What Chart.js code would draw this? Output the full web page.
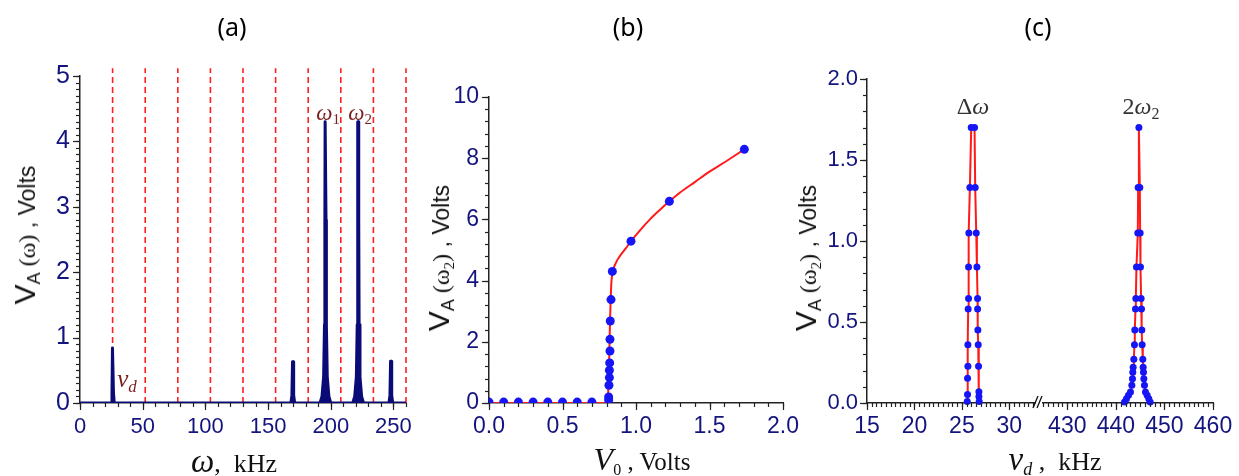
<!DOCTYPE html>
<html><head><meta charset="utf-8">
<script src="https://cdn.jsdelivr.net/npm/chart.js@4.4.1/dist/chart.umd.min.js"></script>
<style>
html,body{margin:0;padding:0;background:#fff;overflow:hidden;width:1239px;height:476px;}
#wrap{position:relative;width:1239px;height:476px;overflow:hidden;}
canvas{position:absolute;top:0;}
.lbl{position:absolute;white-space:nowrap;line-height:1;color:#111;transform:translate(-50%,-50%);}
.rot{transform:translate(-50%,-50%) rotate(-90deg);}
.ss{font-family:"Liberation Sans",Arial,sans-serif;}
.sf{font-family:"Liberation Serif","Times New Roman",serif;}
.it{font-style:italic;}
.ptitle{font-family:"Noto Sans",sans-serif;font-size:25px;color:#000;}
.ann{color:#7a1e1e;font-family:"Liberation Serif",serif;font-style:italic;font-size:23px;}
sub{vertical-align:-0.3em;line-height:0;}
</style></head><body><div id="wrap">
<canvas id="ca" width="440" height="476" style="left:0px;width:440px;height:476px"></canvas>
<canvas id="cb" width="420" height="476" style="left:420px;width:420px;height:476px"></canvas>
<canvas id="ccl" width="230" height="476" style="left:816px;width:230px;height:476px"></canvas>
<canvas id="ccr" width="250" height="476" style="left:1030px;width:250px;height:476px"></canvas>

<div class="lbl ptitle" style="left:232px;top:26px">(a)</div>
<div class="lbl ptitle" style="left:628px;top:26px">(b)</div>
<div class="lbl ptitle" style="left:1038px;top:26px">(c)</div>

<div class="lbl rot" style="left:25px;top:235px"><span class="ss" style="font-size:30px">V</span><sub class="ss" style="font-size:18px">A</sub><span class="sf" style="font-size:24px"> (ω)</span><span class="ss" style="font-size:23px"> , Volts</span></div>
<div class="lbl rot" style="left:439px;top:258px"><span class="ss" style="font-size:30px">V</span><sub class="ss" style="font-size:18px">A</sub><span class="sf" style="font-size:24px"> (ω<sub style="font-size:15px">2</sub>)</span><span class="ss" style="font-size:23px"> , Volts</span></div>
<div class="lbl rot" style="left:806px;top:258px"><span class="ss" style="font-size:30px">V</span><sub class="ss" style="font-size:18px">A</sub><span class="sf" style="font-size:24px"> (ω<sub style="font-size:15px">2</sub>)</span><span class="ss" style="font-size:23px"> , Volts</span></div>

<div class="lbl sf" style="left:234px;top:461px"><span class="it" style="font-size:33px">ω</span><span style="font-size:26px">,&nbsp; kHz</span></div>
<div class="lbl sf" style="left:642px;top:459px"><span class="it" style="font-size:32px">V</span><sub style="font-size:16px">0</sub><span style="font-size:25px"> , Volts</span></div>
<div class="lbl sf" style="left:1055px;top:459px"><span class="it" style="font-size:33px">ν</span><sub class="it" style="font-size:18px">d</sub><span style="font-size:26px"> ,&nbsp; kHz</span></div>

<div class="lbl ann" style="left:328px;top:112px">ω<sub style="font-style:normal;font-size:15px">1</sub></div>
<div class="lbl ann" style="left:360px;top:112px">ω<sub style="font-style:normal;font-size:15px">2</sub></div>
<div class="lbl ann" style="left:127px;top:378px;font-size:25px">ν<sub style="font-size:17px">d</sub></div>
<div class="lbl sf" style="left:973px;top:106px;font-size:24px;color:#333">Δ<span class="it">ω</span></div>
<div class="lbl sf" style="left:1141px;top:106px;font-size:24px;color:#333">2<span class="it">ω</span><sub style="font-size:16px">2</sub></div>
</div>
<script>
// ---------- data ----------
// (a) spectrum
const spectrumFreq = [0, 24.9, 25.5, 25.9, 26.3, 26.7, 27.3,
  168.2, 169.0, 169.5, 169.9, 170.4, 171.2,
  191.4, 193.0, 194.3, 195.0, 195.3, 195.5, 196.0, 196.2, 196.5, 197.2, 198.5, 200.0,
  217.5, 219.1, 220.4, 221.1, 221.4, 221.6, 222.1, 222.3, 222.6, 223.3, 224.6, 226.1,
  246.4, 247.2, 247.7, 248.1, 248.6, 249.4, 260];
const spectrumAmp = [0, 0, 0.15, 0.84, 0.84, 0.15, 0,
  0, 0.12, 0.63, 0.63, 0.12, 0,
  0, 0.1, 0.4, 1.2, 2.8, 4.3, 4.3, 2.8, 1.2, 0.4, 0.1, 0,
  0, 0.1, 0.4, 1.2, 2.8, 4.3, 4.3, 2.8, 1.2, 0.4, 0.1, 0,
  0, 0.12, 0.64, 0.64, 0.12, 0, 0];
const harmonicFreq = [26, 52, 78, 104, 130, 156, 182, 208, 234, 260];
const xTicksA = [0, 50, 100, 150, 200, 250];
const yTicksA = [0, 1, 2, 3, 4, 5];

// (b) amplitude vs drive
const scanV0 = [0, 0.1, 0.2, 0.3, 0.4, 0.5, 0.6, 0.7, 0.814, 0.814, 0.816, 0.819, 0.819, 0.821, 0.823, 0.823, 0.825, 0.830, 0.839, 0.966, 1.227, 1.737];
const scanVA = [0.03, 0.03, 0.03, 0.03, 0.03, 0.03, 0.03, 0.03, 0.1, 0.2, 0.58, 0.83, 1.07, 1.31, 1.70, 2.08, 2.68, 3.38, 4.30, 5.29, 6.59, 8.29];
const fitV0 = [0, 0.80, 0.810, 0.814, 0.818, 0.821, 0.824, 0.828, 0.832, 0.84, 0.86, 0.89, 0.93, 0.966, 1.03, 1.095, 1.16, 1.227, 1.30, 1.40, 1.50, 1.60, 1.737];
const fitVA = [0, 0, 0.25, 0.8, 1.5, 2.2, 2.8, 3.4, 3.9, 4.25, 4.55, 4.8, 5.05, 5.29, 5.66, 6.0, 6.3, 6.59, 6.88, 7.22, 7.56, 7.86, 8.29];
const xTicksB = [0, 0.5, 1, 1.5, 2];
const yTicksB = [0, 2, 4, 6, 8, 10];

// (c) amplitude vs drive frequency
const dwFreq = [25.56, 25.59, 25.59, 25.63, 25.63, 25.66, 25.70, 25.70, 25.73, 25.84, 25.98, 26.33, 26.40, 26.51, 26.58, 26.65, 26.65, 26.68, 26.72, 26.75, 26.79, 26.79, 26.82];
const dwAmp  = [0.01, 0.052, 0.153, 0.227, 0.36, 0.58, 0.645, 0.84, 1.05, 1.33, 1.70, 1.70, 1.33, 1.05, 0.84, 0.645, 0.58, 0.45, 0.36, 0.227, 0.07, 0.04, 0.01];
const twFreq = [441.78, 442.19, 442.60, 443.01, 443.29, 443.42, 443.49, 443.56, 443.70, 443.83, 443.90, 444.04, 444.11, 444.24, 444.52, 444.59, 444.74,
  444.93, 445.00, 445.07, 445.20, 445.28, 445.35, 445.41, 445.55, 445.62, 445.69, 445.76, 445.89, 446.10, 446.44, 446.78, 447.06];
const twAmp  = [0.006, 0.027, 0.048, 0.068, 0.11, 0.15, 0.19, 0.22, 0.27, 0.36, 0.45, 0.58, 0.645, 0.84, 1.05, 1.33, 1.70,
  1.33, 1.05, 0.84, 0.645, 0.58, 0.45, 0.36, 0.27, 0.22, 0.19, 0.15, 0.11, 0.068, 0.048, 0.027, 0.006];
const xTicksCL = [15, 20, 25, 30];
const xTicksCR = [430, 440, 450, 460];
const yTicksC = [0, 0.5, 1, 1.5, 2];

// ---------- helpers ----------
const TICK_COLOR = '#14147f';
const AXIS_COLOR = '#222';
const zip = (xs, ys) => xs.map((x, i) => ({x, y: ys[i]}));

const tickMarks = {
  id: 'tickMarks',
  afterDraw(chart, args, o) {
    const ctx = chart.ctx;
    ctx.save();
    ctx.strokeStyle = AXIS_COLOR;
    ctx.lineWidth = 1.2;
    (o.axes || []).forEach(a => {
      const s = chart.scales[a.id];
      const horiz = s.isHorizontal();
      const marks = [];
      const n = Math.round((s.max - a.minorStart) / a.minor);
      for (let i = 0; i <= n; i++) marks.push([a.minorStart + i * a.minor, 4]);
      s.ticks.forEach(t => marks.push([t.value, 7]));
      marks.forEach(([v, len]) => {
        if (v < s.min - 1e-9 || v > s.max + 1e-9) return;
        const p = Math.round(s.getPixelForValue(v)) + 0.5;
        ctx.beginPath();
        if (horiz) { ctx.moveTo(p, s.top); ctx.lineTo(p, s.top + len); }
        else { ctx.moveTo(s.right, p); ctx.lineTo(s.right - len, p); }
        ctx.stroke();
      });
    });
    if (o.breakMark) {
      const ca = chart.chartArea;
      ctx.lineWidth = 1.3;
      ctx.strokeStyle = '#111';
      [[-2, 3], [2, 7]].forEach(([a, b]) => {
        ctx.beginPath();
        ctx.moveTo(ca.right + a, ca.bottom + 5);
        ctx.lineTo(ca.right + b, ca.bottom - 7);
        ctx.stroke();
      });
    }
    ctx.restore();
  }
};

function axis(min, max, ticksArr, fmt, fixed, fontSize, pad, display = true) {
  return {
    type: 'linear', min, max, display,
    afterBuildTicks: s => { s.ticks = ticksArr.map(v => ({value: v})); },
    afterFit: s => { if (fixed.w !== undefined) s.width = fixed.w; if (fixed.h !== undefined) s.height = fixed.h; },
    grid: {drawOnChartArea: false, drawTicks: false},
    border: {display: true, color: AXIS_COLOR, width: 1.5},
    ticks: {color: TICK_COLOR, font: {family: 'Liberation Sans', size: fontSize}, padding: pad,
      callback: v => fmt(v), maxRotation: 0, autoSkip: false}
  };
}
const commonPlugins = (axes, extra = {}) => ({
  legend: {display: false}, title: {display: false}, tooltip: {enabled: false},
  tickMarks: Object.assign({axes}, extra)
});

// ---------- (a) ----------
const dashedSets = harmonicFreq.map(h => ({
  data: [{x: h, y: 0}, {x: h, y: 5.12}],
  borderColor: '#ff1f1f', borderWidth: 1.6, borderDash: [6, 4],
  pointRadius: 0, clip: false, order: 2
}));
new Chart(document.getElementById('ca'), {
  type: 'line',
  data: {datasets: [
    {data: zip(spectrumFreq, spectrumAmp), borderColor: '#0b0b78', backgroundColor: '#0b0b78',
     fill: 'origin', borderWidth: 3, pointRadius: 0, tension: 0, order: 0, borderJoinStyle: 'round'},
    ...dashedSets
  ]},
  options: {
    responsive: false, animation: false, events: [],
    layout: {padding: {left: 0, top: 76, right: 34, bottom: 0}},
    scales: {
      x: axis(0, 260, xTicksA, v => String(v), {h: 73}, 22, 11),
      y: axis(0, 5, yTicksA, v => String(v), {w: 80}, 25, 10)
    },
    plugins: Object.assign(commonPlugins([{id: 'x', minor: 10, minorStart: 0}, {id: 'y', minor: 0.1, minorStart: 0}]), {filler: {propagate: false}})
  },
  plugins: [tickMarks]
});

// ---------- (b) ----------
new Chart(document.getElementById('cb'), {
  type: 'line',
  data: {datasets: [
    {data: zip(scanV0, scanVA), showLine: false, pointRadius: 4.5, pointBackgroundColor: '#1515f5',
     pointBorderColor: '#1515f5', pointBorderWidth: 0, order: 0},
    {data: zip(fitV0, fitVA), borderColor: '#ff1a1a', borderWidth: 2, pointRadius: 0,
     cubicInterpolationMode: 'monotone', order: 1}
  ]},
  options: {
    responsive: false, animation: false, events: [],
    layout: {padding: {left: 0, top: 97, right: 57, bottom: 0}},
    scales: {
      x: axis(0, 2, xTicksB, v => v.toFixed(1), {h: 73}, 23, 10),
      y: axis(0, 10, yTicksB, v => String(v), {w: 69}, 23, 10)
    },
    plugins: commonPlugins([{id: 'x', minor: 0.1, minorStart: 0}, {id: 'y', minor: 0.4, minorStart: 0}])
  },
  plugins: [tickMarks]
});

// ---------- (c) left ----------
const peakStyle = {borderColor: '#ff1a1a', borderWidth: 2, pointRadius: 3.5, pointBackgroundColor: '#1515f5',
  pointBorderColor: '#1515f5', pointBorderWidth: 0, tension: 0, clip: false};
new Chart(document.getElementById('ccl'), {
  type: 'line',
  data: {datasets: [Object.assign({data: zip(dwFreq, dwAmp)}, peakStyle)]},
  options: {
    responsive: false, animation: false, events: [],
    layout: {padding: {left: 0, top: 79, right: 11, bottom: 0}},
    scales: {
      x: axis(15, 32.7, xTicksCL, v => String(v), {h: 73}, 23, 10),
      y: axis(0, 2, yTicksC, v => v.toFixed(1), {w: 51}, 22, 9)
    },
    plugins: commonPlugins([{id: 'x', minor: 0.5, minorStart: 15}, {id: 'y', minor: 0.1, minorStart: 0}], {breakMark: true})
  },
  plugins: [tickMarks]
});

// ---------- (c) right ----------
new Chart(document.getElementById('ccr'), {
  type: 'line',
  data: {datasets: [Object.assign({data: zip(twFreq, twAmp)}, peakStyle)]},
  options: {
    responsive: false, animation: false, events: [],
    layout: {padding: {left: 13, top: 79, right: 67, bottom: 0}},
    scales: {
      x: axis(425, 460, xTicksCR, v => String(v), {h: 73}, 23, 10),
      y: axis(0, 2, yTicksC, v => v.toFixed(1), {w: 0}, 22, 9, false)
    },
    plugins: commonPlugins([{id: 'x', minor: 1, minorStart: 425}])
  },
  plugins: [tickMarks]
});
</script>
</body></html>
